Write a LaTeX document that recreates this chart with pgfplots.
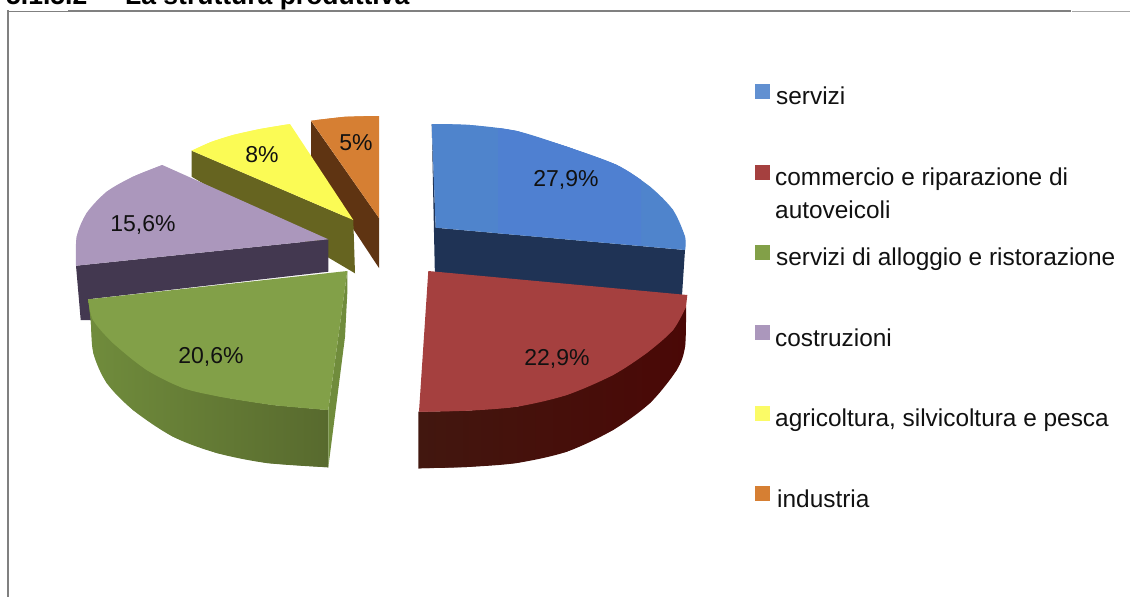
\documentclass[border=0pt]{standalone}
\usepackage{pgfplots}
\pgfplotsset{compat=1.18}
\usepackage{fontspec}
\setmainfont{Liberation Sans}
\definecolor{cblue}{HTML}{4F80D1}
\definecolor{cblueL}{HTML}{4F84CC}
\definecolor{cblueS}{HTML}{1F3355}
\definecolor{cred}{HTML}{A5403F}
\definecolor{credS}{HTML}{42170F}
\definecolor{credT}{HTML}{4A0806}
\definecolor{cgreen}{HTML}{82A048}
\definecolor{cgreenA}{HTML}{708C3C}
\definecolor{cgreenB}{HTML}{586A2E}
\definecolor{cpurple}{HTML}{AB97BC}
\definecolor{cpurpleS}{HTML}{433850}
\definecolor{cyellow}{HTML}{FBFB55}
\definecolor{cyellowS}{HTML}{666420}
\definecolor{corange}{HTML}{D67F33}
\definecolor{corangeS}{HTML}{5F3412}
\definecolor{frame}{HTML}{808080}
\definecolor{ink}{HTML}{111111}
\newcommand{\lab}{\fontsize{23}{27}\selectfont}
\newcommand{\leg}{\fontsize{24.4}{28}\selectfont}
\begin{document}
\begin{tikzpicture}
\path[use as bounding box,clip] (0,0) rectangle (1130pt,597pt);
\begin{axis}[at={(0pt,0pt)},anchor=south west,scale only axis,width=1130pt,height=597pt,
  xmin=0,xmax=1130,ymin=0,ymax=597,y dir=reverse,hide axis,clip=false]
% frame
\addplot[frame,line width=2pt] coordinates {(8,597)(8,11)(1071,11)};
\addplot[frame!70,line width=1pt] coordinates {(1072,11)(1130,11)};
\addplot[white,line width=0.8pt] coordinates {(9,10.4)(68,10.4)};
% orange
\addplot[fill=corangeS,draw=none] coordinates {(311,121)(379,218)(379,268)(311,165)} --cycle;
\addplot[fill=corange,draw=none] coordinates {(311,120.7)(345,116.7)(379,116)(379,218)} --cycle;
\addplot[smooth,fill=corange,draw=none] coordinates {(311,120.7)(345,116.9)(379,116)};
% yellow
\addplot[fill=cyellowS,draw=none] coordinates {(191.7,150.7)(353.3,220)(355,273.3)(191.7,176.7)} --cycle;
\addplot[fill=cyellow,draw=none] coordinates {(353.3,220)(191.7,150.7)(211,142)(233,135)(260,129)(290,124)} --cycle;
\addplot[smooth,fill=cyellow,draw=none] coordinates {(191.7,150.7)(211,142)(233,135)(260,129)(290,124)};
% purple
\addplot[fill=cpurpleS,draw=none] coordinates {(76,265.7)(328.3,239.3)(328.3,271.7)(88,299.3)(93,320)(80.7,320)} --cycle;
\addplot[fill=cpurple,draw=none] coordinates {(328.3,239.3)(162.3,165)(133,176.7)(106.7,191.7)(86.7,213)(76.7,236.7)(76,265.7)} --cycle;
\addplot[smooth,fill=cpurple,draw=none] coordinates {(162.3,165)(133,176.7)(106.7,191.7)(86.7,213)(76.7,236.7)(76,265.7)};
% green
\addplot[left color=cgreenA,right color=cgreenB,draw=none] coordinates {(88.3,299.3)(93,320)(113,343)(146.7,370)(183,388)(220,396.7)(273,405)(328.3,410)(328.3,467.3)(266.7,463)(216.7,453)(173,436.7)(133,410)(106.7,383)(93.3,353)(90.7,320)} --cycle;
\addplot[smooth,left color=cgreenA,right color=cgreenB,draw=none] coordinates {(88.3,299.3)(90.7,320)(93.3,353)(106.7,383)(133,410)(173,436.7)(216.7,453)(266.7,463)(328.3,467.3)};
\addplot[fill=cgreenA,draw=none] coordinates {(347.3,271)(347.3,293)(345,337)(328.3,467.3)(328.3,410)} --cycle;
\addplot[fill=cgreen,draw=none] coordinates {(347.3,271)(88.3,299.3)(93,320)(113,343)(146.7,370)(183,388)(220,396.7)(273,405)(328.3,410)} --cycle;
\addplot[smooth,fill=cgreen,draw=none] coordinates {(88.3,299.3)(93,320)(113,343)(146.7,370)(183,388)(220,396.7)(273,405)(328.3,410)};
% blue
\addplot[fill=cblueS,draw=none] coordinates {(431.7,124)(435.7,227.7)(685,250)(681.7,300)(435,280)} --cycle;
\addplot[fill=cblueL,draw=none] coordinates {(431.7,124)(470,125)(516.7,131)(566.7,146.7)(616.7,165)(650,186.7)(673,210)(685,236.7)(685,250)(435.7,227.7)} --cycle;
\addplot[smooth,fill=cblueL,draw=none] coordinates {(431.7,124)(470,125)(516.7,131)(566.7,146.7)(616.7,165)(650,186.7)(673,210)(685,236.7)(685,250)};
\addplot[fill=cblue,draw=none] coordinates {(498,128)(516.7,131)(566.7,146.7)(616.7,165)(641,180)(641,245.5)(498,233)} --cycle;
\addplot[smooth,fill=cblue,draw=none] coordinates {(498,128)(516.7,131.5)(566.7,146.7)(616.7,165)(641,180)};
% red
\addplot[left color=credS,right color=credT,draw=none] coordinates {(418.3,411.7)(466.7,410.7)(516.7,406.7)(566.7,395)(613,375)(646.7,353)(673,330)(686,306.7)(685,346.7)(676.7,370)(650,403)(613,430)(566.7,451.7)(516.7,463)(466.7,467)(418.3,468.3)} --cycle;
\addplot[smooth,left color=credS,right color=credT,draw=none] coordinates {(418.3,468.3)(466.7,467)(516.7,463)(566.7,451.7)(613,430)(650,403)(676.7,370)(685,346.7)(686,306.7)};
\addplot[fill=cred,draw=none] coordinates {(428.3,271)(687.3,295)(686,306.7)(673,330)(646.7,353)(613,375)(566.7,395)(516.7,406.7)(466.7,410.7)(419,411.7)} --cycle;
\addplot[smooth,fill=cred,draw=none] coordinates {(686,306.7)(673,330)(646.7,353)(613,375)(566.7,395)(516.7,406.7)(466.7,410.7)(419,411.7)};
% data labels
\node[ink,anchor=center] at (axis cs:566,180) {\lab 27,9\%};
\node[ink,anchor=center] at (axis cs:557,359) {\lab 22,9\%};
\node[ink,anchor=center] at (axis cs:211,357) {\lab 20,6\%};
\node[ink,anchor=center] at (axis cs:143,225) {\lab 15,6\%};
\node[ink,anchor=center] at (axis cs:262,155) {\lab 8\%};
\node[ink,anchor=center] at (axis cs:356,143) {\lab 5\%};
% legend keys
\addplot[fill=cblueL!90!white,draw=none] coordinates {(755,84)(770,84)(770,99)(755,99)} --cycle;
\addplot[fill=cred,draw=none] coordinates {(755,165)(770,165)(770,180)(755,180)} --cycle;
\addplot[fill=cgreen,draw=none] coordinates {(755,245)(770,245)(770,260)(755,260)} --cycle;
\addplot[fill=cpurple,draw=none] coordinates {(755,325)(770,325)(770,340)(755,340)} --cycle;
\addplot[fill=cyellow!90!white,draw=none] coordinates {(755,406)(770,406)(770,421)(755,421)} --cycle;
\addplot[fill=corange,draw=none] coordinates {(755,486)(770,486)(770,501)(755,501)} --cycle;
% legend text
\tikzset{lg/.style={ink,anchor=base west,inner sep=0pt}}
\node[lg] at (axis cs:776,104) {\leg servizi};
\node[lg] at (axis cs:775,185) {\leg commercio e riparazione di};
\node[lg] at (axis cs:775,218) {\leg autoveicoli};
\node[lg] at (axis cs:776,265) {\leg servizi di alloggio e ristorazione};
\node[lg] at (axis cs:775,346) {\leg costruzioni};
\node[lg] at (axis cs:775,426) {\leg agricoltura, silvicoltura e pesca};
\node[lg] at (axis cs:777,507) {\leg industria};
% heading
\node[black,anchor=base west,inner sep=0pt] at (axis cs:6,4.7) {\fontsize{26.5}{30}\selectfont\bfseries 5.1.5.2};
\node[black,anchor=base west,inner sep=0pt] at (axis cs:125,4.7) {\fontsize{26.5}{30}\selectfont\bfseries La struttura produttiva};
\end{axis}
\end{tikzpicture}
\end{document}
